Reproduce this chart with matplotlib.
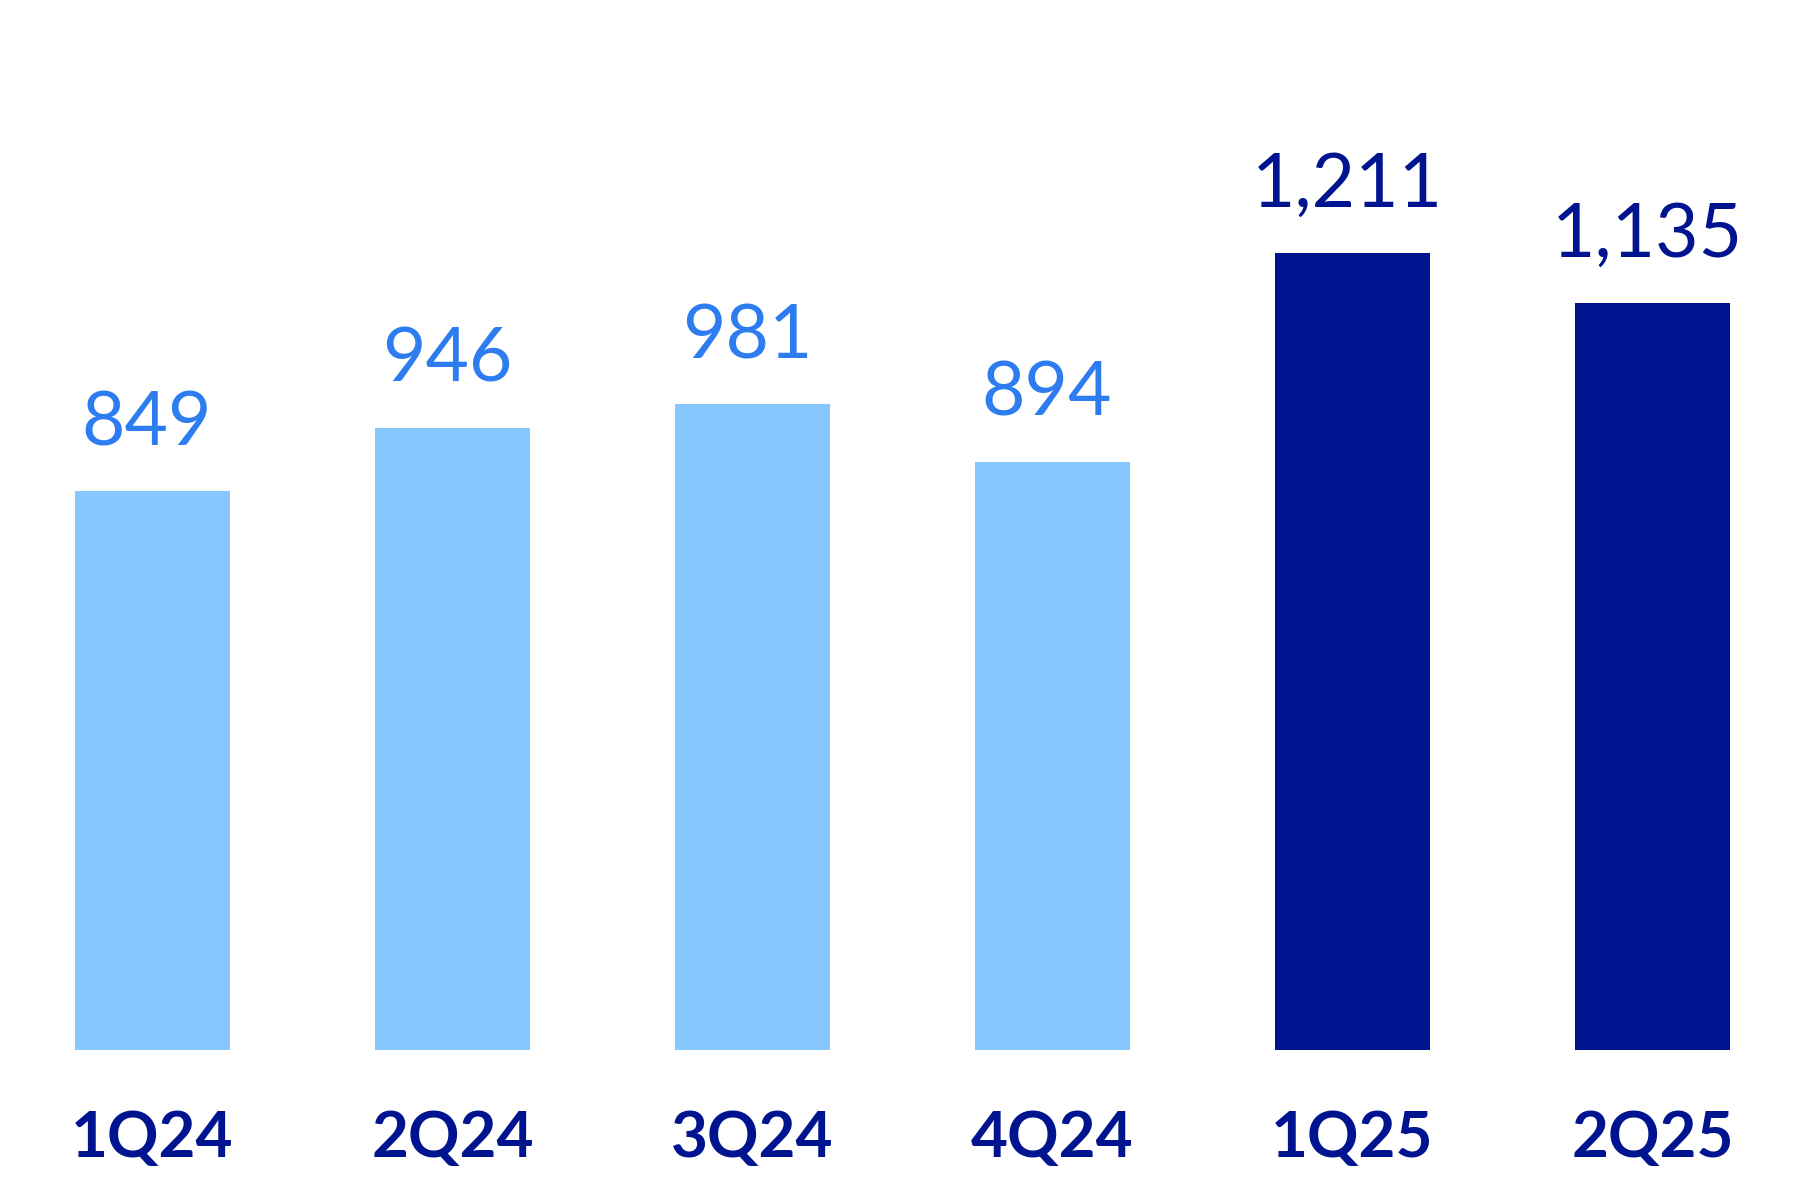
import matplotlib
matplotlib.use("Agg")
import matplotlib.pyplot as plt

categories = ["1Q24", "2Q24", "3Q24", "4Q24", "1Q25", "2Q25"]
values = [849, 946, 981, 894, 1211, 1135]
value_labels = ["849", "946", "981", "894", "1,211", "1,135"]
is_current_year = [False, False, False, False, True, True]

LIGHT_BAR = "#86C7FF"
LIGHT_TEXT = "#2D7DF0"
DARK = "#00148F"

num_font = ["Lato", "DejaVu Sans"]
cat_font = ["Lato", "DejaVu Sans"]

fig = plt.figure(figsize=(18, 12), dpi=100)
ax = fig.add_axes([0, 150 / 1200, 1, 1 - 150 / 1200])

x = list(range(len(categories)))
colors = [DARK if c else LIGHT_BAR for c in is_current_year]
bars = ax.bar(x, values, width=0.517, color=colors)

ax.set_xlim(-0.5083, 5.4917)
ax.set_ylim(0, 1595.7)

texts = ax.bar_label(bars, labels=value_labels, padding=24, fontsize=54,
                     family=num_font)
for t, c in zip(texts, is_current_year):
    t.set_color(DARK if c else LIGHT_TEXT)
    t.xyann = (-4, 24)

ax.set_xticks(x)
ax.set_xticklabels(categories, fontsize=46, fontweight="bold",
                   family=cat_font, color=DARK)
ax.tick_params(axis="x", length=0, pad=43)
ax.tick_params(axis="y", left=False, labelleft=False)
for s in ax.spines.values():
    s.set_visible(False)

fig.savefig("out.png", dpi=100, facecolor="white")
